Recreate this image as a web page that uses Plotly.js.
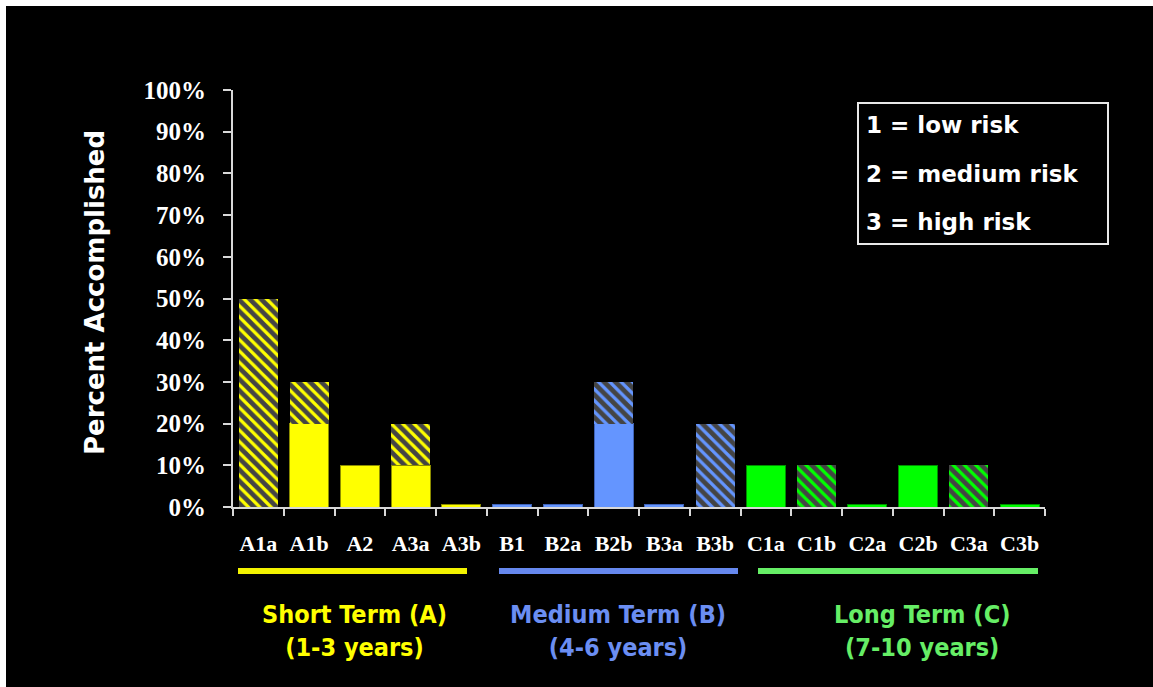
<!DOCTYPE html>
<html>
<head>
<meta charset="utf-8">
<script src="https://cdn.plot.ly/plotly-3.0.1.min.js"></script>
<style>
  html, body { margin: 0; padding: 0; background: #ffffff; width: 1153px; height: 687px; overflow: hidden; }
  #chart { position: absolute; left: 6px; top: 6px; width: 1147px; height: 681px; background: #000; }
</style>
</head>
<body>
<div id="chart"></div>
<script>
// Categories (goal codes)
const categories = ["A1a","A1b","A2","A3a","A3b","B1","B2a","B2b","B3a","B3b","C1a","C1b","C2a","C2b","C3a","C3b"];
// Solid (fully accomplished) portion, percent
const solidValues = [0, 20, 10, 10, 0.5, 0.5, 0.5, 20, 0.5, 0, 10, 0, 0.5, 10, 0, 0.5];
// Hatched (partially accomplished) portion, percent
const hatchedValues = [50, 10, 0, 10, 0, 0, 0, 10, 0, 20, 0, 10, 0, 0, 10, 0];
// Group of each category
const groupOf = ["A","A","A","A","A","B","B","B","B","B","C","C","C","C","C","C"];
const groupColors = {A: "#FFFF00", B: "#6495FF", C: "#00FF00"};
const groupEdgeColors = {A: "#8C8C00", B: "#3F63B8", C: "#009000"};
const barColors = groupOf.map(g => groupColors[g]);
const edgeColors = groupOf.map(g => groupEdgeColors[g]);

const yTickVals = [0,10,20,30,40,50,60,70,80,90,100];
const yTickText = yTickVals.map(v => v + "%");

const legendLines = ["1 = low risk", "2 = medium risk", "3 = high risk"];
const groupLabels = ["Short Term (A)<br>(1-3 years)", "Medium Term (B)<br>(4-6 years)", "Long Term (C)<br>(7-10 years)"];
const groupTextColors = ["#FFFF00", "#6B8EF2", "#66EE66"];
const groupLineColors = ["#F2F200", "#6688EE", "#66EE66"];

const solid = {
  type: "bar", x: categories, y: solidValues,
  marker: { color: barColors, line: { color: edgeColors, width: 1 } },
  hoverinfo: "x+y", showlegend: false
};
const hatched = {
  type: "bar", x: categories, y: hatchedValues,
  marker: {
    color: barColors,
    line: { width: 0 },
    pattern: { shape: "\\", fillmode: "overlay", fgcolor: "#000000", fgopacity: 1, size: 8, solidity: 0.6 }
  },
  hoverinfo: "x+y", showlegend: false
};

// plot area in page px: x 233..1045, y 90..507
const px = v => (v - 233) / 812;
const py = v => (507 - v) / 417;

const annotations = [
  { xref: "paper", yref: "paper", x: px(95), y: py(293), text: "Percent Accomplished", textangle: -90,
    showarrow: false, xanchor: "center", yanchor: "middle",
    font: { family: "DejaVu Sans, Liberation Sans, sans-serif", size: 26, color: "#ffffff", weight: "bold" } }
];
const legendY = [125, 174, 222];
legendLines.forEach((t, i) => annotations.push({
  xref: "paper", yref: "paper", x: px(864), y: py(legendY[i]), text: t, showarrow: false,
  xanchor: "left", yanchor: "middle",
  font: { family: "DejaVu Sans, Liberation Sans, sans-serif", size: 23, color: "#ffffff", weight: "bold" }
}));
const groupX = [354, 618, 922];
groupLabels.forEach((t, i) => annotations.push({
  xref: "paper", yref: "paper", x: px(groupX[i]), y: py(631), text: t, showarrow: false,
  xanchor: "center", yanchor: "middle",
  font: { family: "DejaVu Sans Condensed, DejaVu Sans, sans-serif", size: 25, color: groupTextColors[i], weight: "bold" }
}));

const lineSpans = [[238, 467], [499, 738], [758, 1038]];
const shapes = lineSpans.map((s, i) => ({
  type: "line", xref: "paper", yref: "paper", x0: px(s[0]), x1: px(s[1]), y0: py(571), y1: py(571),
  line: { color: groupLineColors[i], width: 6 }
}));
shapes.push({
  type: "rect", xref: "paper", yref: "paper", x0: px(858), x1: px(1108), y0: py(103), y1: py(244),
  line: { color: "#E8E8E8", width: 2 }, fillcolor: "rgba(0,0,0,0)"
});

const layout = {
  width: 1147, height: 681,
  paper_bgcolor: "#000000", plot_bgcolor: "#000000",
  margin: { l: 227, r: 108, t: 84, b: 180 },
  barmode: "stack", bargap: 0.23,
  showlegend: false,
  xaxis: {
    type: "category", showline: true, linecolor: "#D8D8D8", linewidth: 2,
    ticks: "outside", tickson: "boundaries", ticklen: 7, tickcolor: "#D8D8D8", tickwidth: 2,
    showgrid: false, zeroline: false, ticklabelstandoff: 16,
    tickfont: { family: "Liberation Serif, Times New Roman, serif", size: 22, color: "#ffffff", weight: "bold" }
  },
  yaxis: {
    range: [0, 100], showline: true, linecolor: "#D8D8D8", linewidth: 2,
    ticks: "outside", ticklen: 8, tickcolor: "#D8D8D8", tickwidth: 2,
    tickvals: yTickVals, ticktext: yTickText, showgrid: false, zeroline: false,
    ticklabelstandoff: 12,
    tickfont: { family: "Liberation Serif, Times New Roman, serif", size: 25, color: "#ffffff", weight: "bold" }
  },
  annotations: annotations,
  shapes: shapes
};

Plotly.newPlot("chart", [solid, hatched], layout, { displayModeBar: false, staticPlot: true });
</script>
</body>
</html>
